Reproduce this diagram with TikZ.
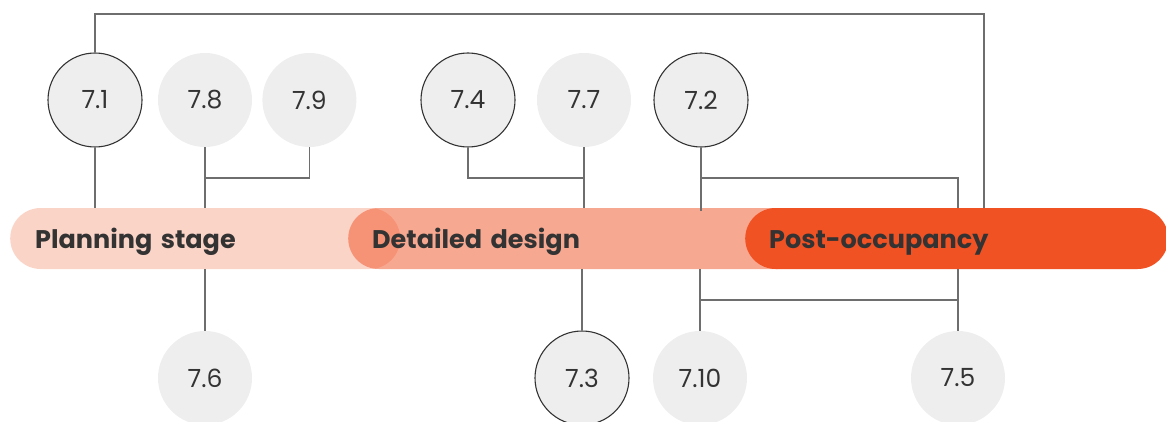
\documentclass[tikz,border=0pt]{standalone}
\usepackage{fontspec}
\setmainfont{Poppins}
\usepackage{tikz}
\usetikzlibrary{positioning}
\definecolor{stageOrange}{RGB}{240,82,36}
\definecolor{linkGray}{RGB}{110,110,110}
\definecolor{circleFill}{RGB}{238,238,238}
\definecolor{inkDark}{RGB}{51,51,51}

\begin{document}
\begin{tikzpicture}[
    x=1pt, y=-1pt,
    % Styles
    topic/.style={
        circle,
        fill=circleFill,
        minimum size=94pt,
        inner sep=0pt,
        text=inkDark,
        font=\fontsize{25}{25}\selectfont
    },
    keytopic/.style={
        topic,
        draw=inkDark,
        line width=1.1pt
    },
    stage/.style={
        anchor=west,
        fill=stageOrange,
        text opacity=1,
        text=inkDark,
        rounded corners=30.5pt,
        minimum height=61pt,
        inner xsep=0pt,
        text height=19pt,
        text depth=0pt,
        align=left,
        font=\fontsize{25.5}{25.5}\selectfont\bfseries
    },
    link/.style={draw=linkGray, line width=1.2pt}
]
    \useasboundingbox (0,0) rectangle (1166,422);

    % ---------------------------------------------------------
    % 1. STAGE BARS (left to right, later ones on top)
    % ---------------------------------------------------------
    \node[stage, fill opacity=0.25, text width=390pt] (plan) at (10,238.5)
        {\hspace*{25pt}Planning stage};
    \node[stage, fill opacity=0.5, text width=460pt] (design) at (348,238.5)
        {\hspace*{24pt}Detailed design};
    \node[stage, text width=423pt] (post) at (745,238.5)
        {\hspace*{24pt}Post-occupancy};

    % ---------------------------------------------------------
    % 2. TOP ROW OF TOPICS
    % ---------------------------------------------------------
    \node[keytopic] (t71) at (95,100) {7.1};
    \node[topic] (t78) at (205,100) {7.8};
    \node[topic, right=10pt of t78] (t79) {7.9};
    \node[keytopic] (t74) at (468,100) {7.4};
    \node[topic] (t77) at (584,100) {7.7};
    \node[keytopic] (t72) at (701,100) {7.2};

    % ---------------------------------------------------------
    % 3. BOTTOM ROW OF TOPICS
    % ---------------------------------------------------------
    \node[topic] (t76) at (205,378) {7.6};
    \node[keytopic] (t73) at (582,378) {7.3};
    \node[topic] (t710) at (700,378) {7.10};
    \node[topic] (t75) at (958,378) {7.5};

    % ---------------------------------------------------------
    % CONNECTIONS
    % ---------------------------------------------------------
    \coordinate (overTop) at (984,14);
    \coordinate (joinA) at (205,178);
    \coordinate (joinB) at (584,178);
    \coordinate (joinC) at (958,178);
    \coordinate (joinD) at (958,300);

    % 7.1 runs over the top to post-occupancy
    \draw[link] (t71.north) |- (overTop) -- (overTop |- post.north);
    \draw[link] (t71.south) -- (t71.south |- plan.north);

    % planning stage
    \draw[link] (t78.south) -- (t78.south |- plan.north);
    \draw[link] (t79.south) |- (joinA);
    \draw[link] (t76.north) -- (t76.north |- plan.south);

    % detailed design
    \draw[link] (t77.south) -- (t77.south |- design.north);
    \draw[link] (t74.south) |- (joinB);
    \draw[link] (t73.north) -- (t73.north |- design.south);

    % 7.2 / 7.10 / 7.5
    \draw[link] (t72.south) -- ([yshift=-3pt]t72.south |- design.north);
    \draw[link] (t72.south |- joinC) -- (joinC) -- (joinC |- post.north);
    \draw[link] (t710.north) -- (t710.north |- design.south);
    \draw[link] (t75.north) -- (t75.north |- post.south);
    \draw[link] (t710.north |- joinD) -- (joinD);

\end{tikzpicture}
\end{document}
